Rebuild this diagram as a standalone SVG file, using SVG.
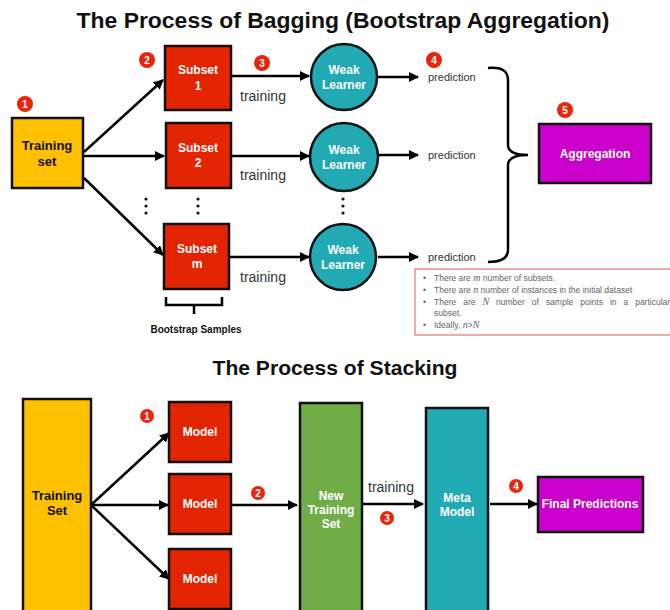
<svg xmlns="http://www.w3.org/2000/svg" width="670" height="610" viewBox="0 0 670 610">
<defs>
<marker id="ah" viewBox="0 0 10 10" refX="9" refY="5" markerWidth="4" markerHeight="4" orient="auto" markerUnits="strokeWidth">
<path d="M0,0 L10,5 L0,10 z" fill="#000"/>
</marker>
<style>
.t{font-family:"Liberation Sans",Arial,sans-serif;font-weight:bold;fill:#111}
.lbl{font-family:"Liberation Sans",Arial,sans-serif;font-weight:bold;font-size:12px;fill:#fff;text-anchor:middle}
.red{fill:#E32400;stroke:#111;stroke-width:2.5}
.amb{fill:#FFC000;stroke:#111;stroke-width:2.5}
.teal{fill:#21AAB4;stroke:#111;stroke-width:2.5}
.mag{fill:#CC00CC;stroke:#111;stroke-width:2.5}
.grn{fill:#70AD47;stroke:#111;stroke-width:2.5}
.ln{stroke:#000;stroke-width:2.5;fill:none;marker-end:url(#ah)}
.br{stroke:#000;stroke-width:2.5;fill:none}
.gt{font-family:"Liberation Sans",Arial,sans-serif;fill:#333}
.badge circle{fill:#E8260C}
.badge text{font-family:"Liberation Sans",Arial,sans-serif;font-weight:bold;font-size:10px;fill:#fff;text-anchor:middle}
.dot{fill:#111}
.note{font-family:"Liberation Sans",Arial,sans-serif;font-size:8.5px;fill:#666}
.m{font-family:"Liberation Serif",serif;font-style:italic;font-size:10px}
</style>
</defs>
<rect width="670" height="610" fill="#fff"/>

<text class="t" x="343" y="28" font-size="22" text-anchor="middle" textLength="533" lengthAdjust="spacingAndGlyphs">The Process of Bagging (Bootstrap Aggregation)</text>
<text class="t" x="335" y="375" font-size="20" text-anchor="middle" textLength="245" lengthAdjust="spacingAndGlyphs">The Process of Stacking</text>

<g id="connectors">
<path class="ln" d="M84,152 L163,80"/>
<path class="ln" d="M84,156 L164,156"/>
<path class="ln" d="M84,178 L163,255"/>
<path class="ln" d="M231,76 L309,76"/>
<path class="ln" d="M231,156 L309,156"/>
<path class="ln" d="M230,257 L309,257"/>
<path class="ln" d="M378,77 L418,77"/>
<path class="ln" d="M378,155 L418,155"/>
<path class="ln" d="M378,257 L418,257"/>
<path class="br" d="M488,68 Q508,66 508,80 L508,145 Q508,155 528,155 Q508,155 508,165 L508,250 Q508,262 488,262"/>
<path class="br" d="M166,297 L166,305 L222,305 L222,297 M194,305 L194,314"/>
<path class="ln" d="M91,505 L169,433"/>
<path class="ln" d="M91,505 L168,505"/>
<path class="ln" d="M91,505 L169,579"/>
<path class="ln" d="M231,505 L297,505"/>
<path class="ln" d="M362,504 L423,504"/>
<path class="ln" d="M490,504 L537,504"/>
</g>

<text class="gt" x="240" y="101" font-size="14">training</text>
<text class="gt" x="240" y="180" font-size="14">training</text>
<text class="gt" x="240" y="282" font-size="14">training</text>
<text class="gt" x="368" y="492" font-size="14">training</text>
<text class="gt" x="428" y="81" font-size="11">prediction</text>
<text class="gt" x="428" y="159" font-size="11">prediction</text>
<text class="gt" x="428" y="261" font-size="11">prediction</text>
<text class="t" x="196" y="333" font-size="10" text-anchor="middle" fill="#333">Bootstrap Samples</text>

<g id="dots">
<circle class="dot" cx="146" cy="199" r="1.6"/><circle class="dot" cx="146" cy="206" r="1.6"/><circle class="dot" cx="146" cy="213" r="1.6"/>
<circle class="dot" cx="198" cy="199" r="1.6"/><circle class="dot" cx="198" cy="206" r="1.6"/><circle class="dot" cx="198" cy="213" r="1.6"/>
<circle class="dot" cx="343" cy="199" r="1.6"/><circle class="dot" cx="343" cy="206" r="1.6"/><circle class="dot" cx="343" cy="213" r="1.6"/>
</g>

<g id="training-set">
<rect class="amb" x="12" y="118" width="71" height="70"/>
<text class="t" x="47" y="150" font-size="13" text-anchor="middle">Training</text>
<text class="t" x="47" y="166" font-size="13" text-anchor="middle">set</text>
</g>
<g id="subset1">
<rect class="red" x="165" y="46" width="66" height="64"/>
<text class="lbl" x="198" y="74">Subset</text>
<text class="lbl" x="198" y="90">1</text>
</g>
<g id="subset2">
<rect class="red" x="166" y="123" width="65" height="65"/>
<text class="lbl" x="198" y="152">Subset</text>
<text class="lbl" x="198" y="167">2</text>
</g>
<g id="subsetm">
<rect class="red" x="164" y="224" width="65" height="65"/>
<text class="lbl" x="197" y="253">Subset</text>
<text class="lbl" x="197" y="268">m</text>
</g>
<g id="weak1">
<circle class="teal" cx="344" cy="77" r="33"/>
<text class="lbl" x="344" y="74">Weak</text>
<text class="lbl" x="344" y="89">Learner</text>
</g>
<g id="weak2">
<circle class="teal" cx="344" cy="157" r="34"/>
<text class="lbl" x="344" y="154">Weak</text>
<text class="lbl" x="344" y="169">Learner</text>
</g>
<g id="weak3">
<circle class="teal" cx="343" cy="257" r="33"/>
<text class="lbl" x="343" y="254">Weak</text>
<text class="lbl" x="343" y="269">Learner</text>
</g>
<g id="aggregation">
<rect class="mag" x="539" y="124" width="112" height="59"/>
<text class="lbl" x="595" y="158" font-size="11">Aggregation</text>
</g>

<g id="note">
<rect x="415" y="269" width="260" height="66" fill="#fff" stroke="#F07070" stroke-width="1.2"/>
<text class="note" x="423" y="281">•</text>
<text class="note" x="434" y="281">There are <tspan class="m">m</tspan> number of subsets.</text>
<text class="note" x="423" y="293">•</text>
<text class="note" x="434" y="293">There are <tspan class="m">n</tspan> number of instances in the initial dataset</text>
<text class="note" x="423" y="305">•</text>
<text class="note" x="434" y="305" word-spacing="4.6">There are <tspan class="m">N</tspan> number of sample points in a particular</text>
<text class="note" x="434" y="316">subset.</text>
<text class="note" x="423" y="328">•</text>
<text class="note" x="434" y="328">Ideally, <tspan class="m">n</tspan>&gt;<tspan class="m">N</tspan></text>
</g>

<g id="st-training-set">
<rect class="amb" x="23" y="399" width="68" height="215"/>
<text class="t" x="57" y="500" font-size="13" text-anchor="middle">Training</text>
<text class="t" x="57" y="515" font-size="13" text-anchor="middle">Set</text>
</g>
<g id="model1">
<rect class="red" x="169" y="402" width="62" height="60"/>
<text class="lbl" x="200" y="436">Model</text>
</g>
<g id="model2">
<rect class="red" x="169" y="474" width="62" height="60"/>
<text class="lbl" x="200" y="508">Model</text>
</g>
<g id="model3">
<rect class="red" x="169" y="549" width="62" height="60"/>
<text class="lbl" x="200" y="583">Model</text>
</g>
<g id="new-training-set">
<rect class="grn" x="300" y="403" width="62" height="215"/>
<text class="lbl" x="331" y="500">New</text>
<text class="lbl" x="331" y="514">Training</text>
<text class="lbl" x="331" y="528">Set</text>
</g>
<g id="meta-model">
<rect class="teal" x="426" y="408" width="62" height="210"/>
<text class="lbl" x="457" y="502">Meta</text>
<text class="lbl" x="457" y="516">Model</text>
</g>
<g id="final-predictions">
<rect class="mag" x="538" y="477" width="105" height="55"/>
<text class="lbl" x="590" y="508" font-size="10">Final Predictions</text>
</g>

<g id="badges">
<g class="badge"><circle cx="25" cy="104" r="8"/><text x="25" y="108">1</text></g>
<g class="badge"><circle cx="147" cy="60" r="8"/><text x="147" y="64">2</text></g>
<g class="badge"><circle cx="262" cy="63" r="8"/><text x="262" y="67">3</text></g>
<g class="badge"><circle cx="434" cy="60" r="8"/><text x="434" y="64">4</text></g>
<g class="badge"><circle cx="565" cy="110" r="8"/><text x="565" y="114">5</text></g>
<g class="badge"><circle cx="147" cy="416" r="7"/><text x="147" y="420">1</text></g>
<g class="badge"><circle cx="258" cy="493" r="7"/><text x="258" y="497">2</text></g>
<g class="badge"><circle cx="387" cy="518" r="7"/><text x="387" y="522">3</text></g>
<g class="badge"><circle cx="516" cy="486" r="7"/><text x="516" y="490">4</text></g>
</g>
</svg>
